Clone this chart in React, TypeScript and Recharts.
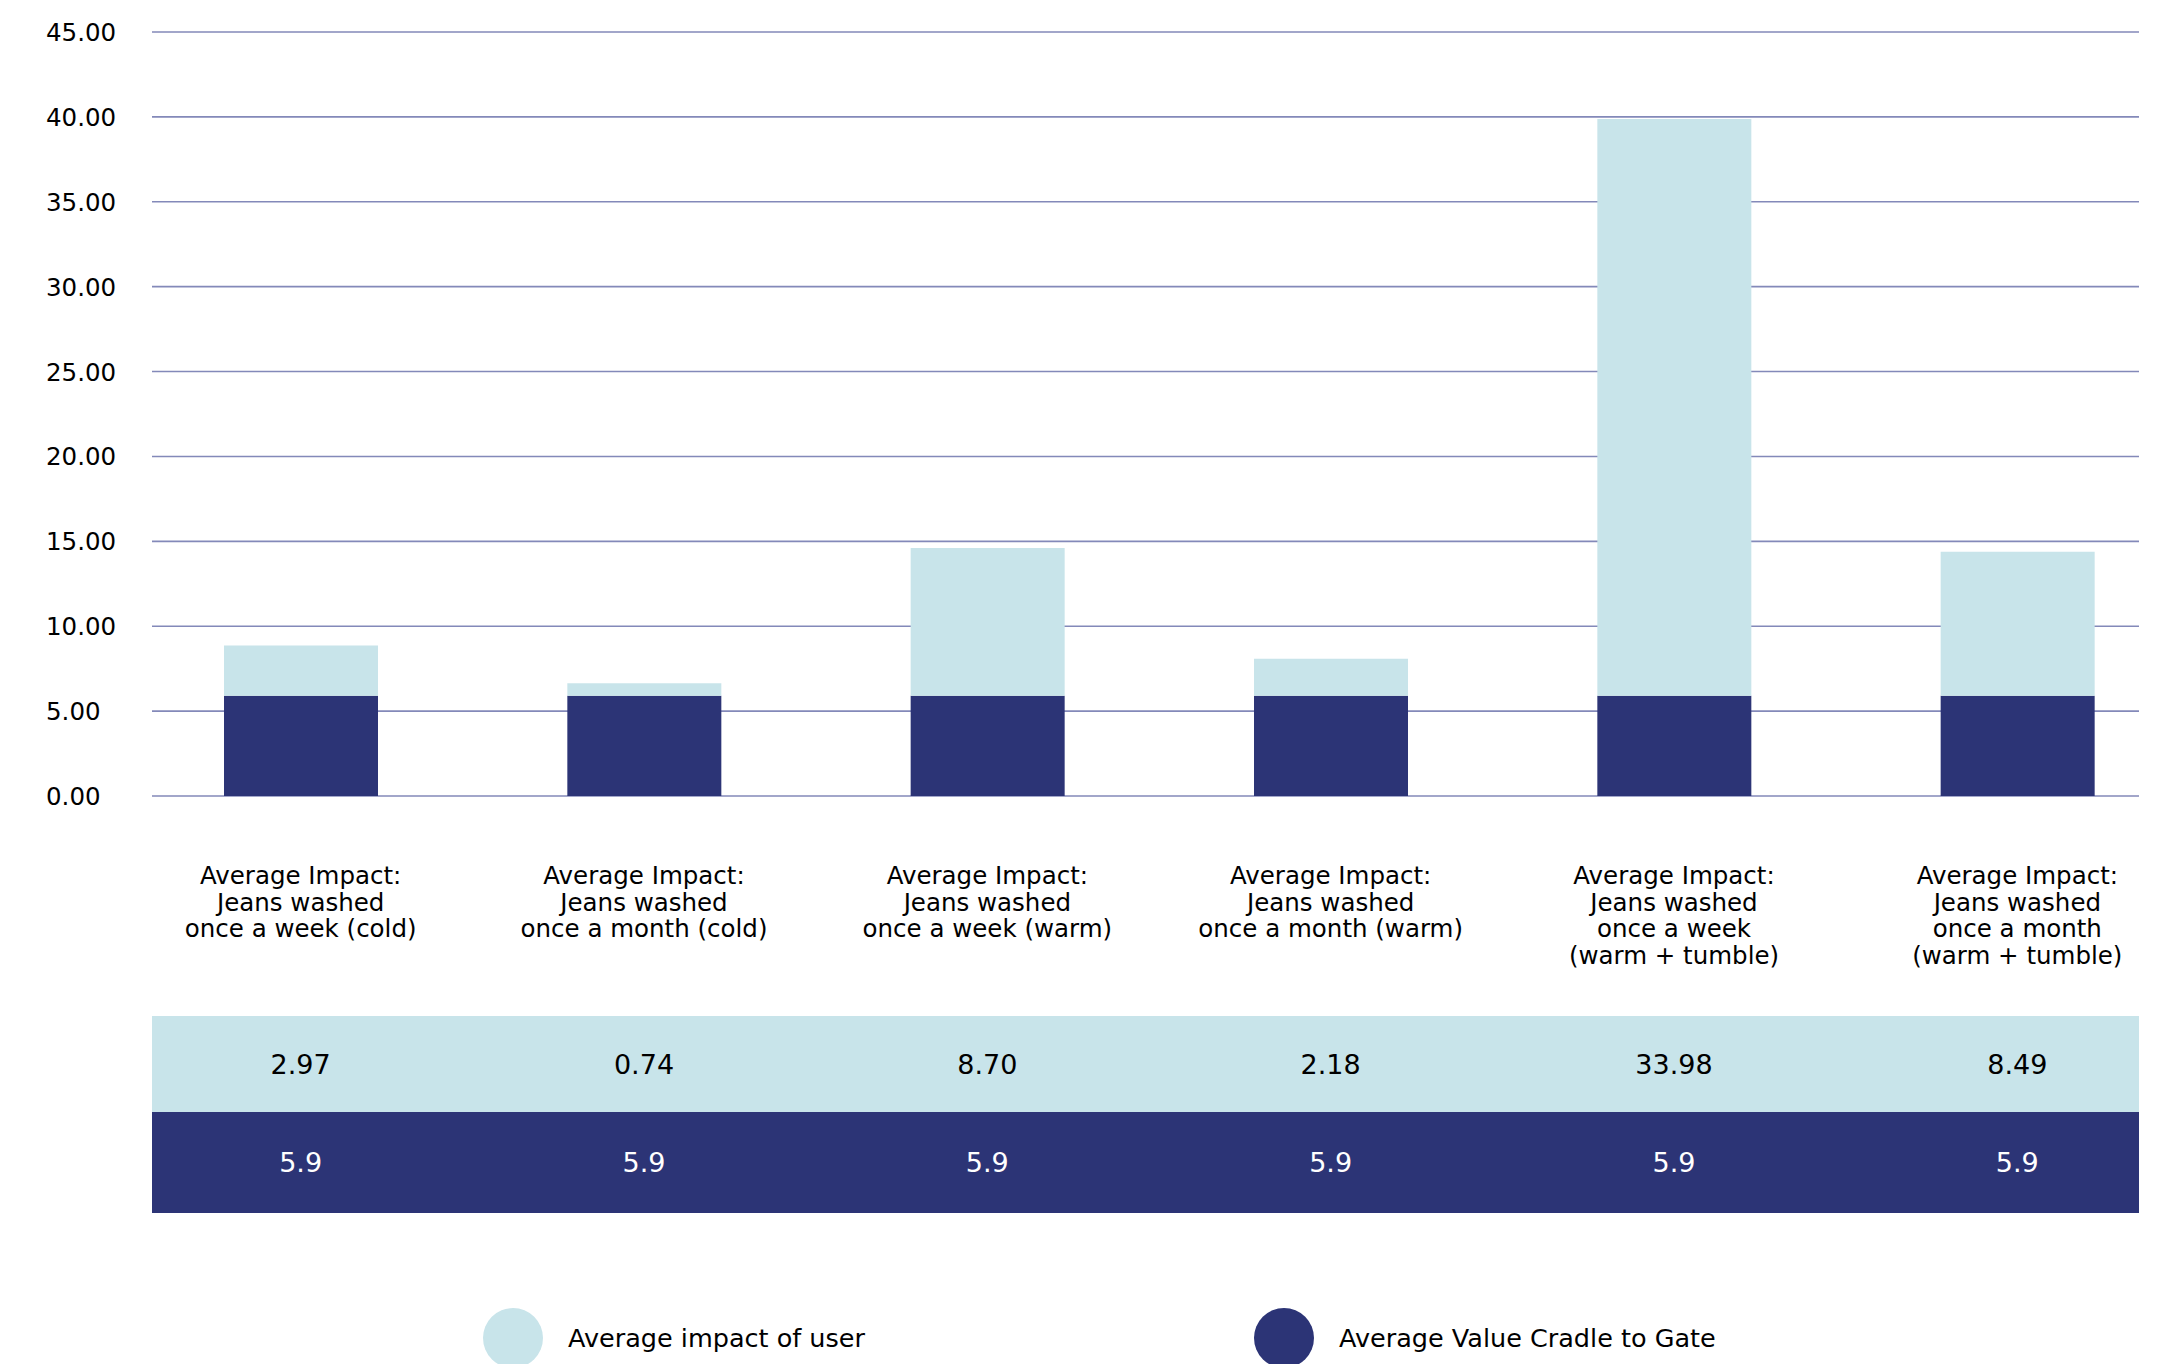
import React from 'react';
import { BarChart, Bar, XAxis, YAxis, CartesianGrid, Legend } from 'recharts';

// ---------- data ----------
const categoryLines: string[][] = [
  ['Average Impact:', 'Jeans washed', 'once a week (cold)'],
  ['Average Impact:', 'Jeans washed', 'once a month (cold)'],
  ['Average Impact:', 'Jeans washed', 'once a week (warm)'],
  ['Average Impact:', 'Jeans washed', 'once a month (warm)'],
  ['Average Impact:', 'Jeans washed', 'once a week', '(warm + tumble)'],
  ['Average Impact:', 'Jeans washed', 'once a month', '(warm + tumble)'],
];
const userImpact = [2.97, 0.74, 8.7, 2.18, 33.98, 8.49];
const cradleToGate = [5.9, 5.9, 5.9, 5.9, 5.9, 5.9];
const yTicks = [0, 5, 10, 15, 20, 25, 30, 35, 40, 45];
const seriesUserName = 'Average impact of user';
const seriesCradleName = 'Average Value Cradle to Gate';

const data = categoryLines.map((lines, i) => ({
  name: lines.join(' '),
  lines,
  user: userImpact[i],
  cradle: cradleToGate[i],
}));

// ---------- layout / style ----------
const FONT = '"DejaVu Sans", sans-serif';
const LIGHT = '#c8e4ea';
const DARK = '#2c3476';
const GRID = '#8389b9';
const CHART_W = 2141;
const CHART_H = 1356;
const MARGIN = { top: 24, right: 10, left: 0, bottom: 138 };
const YAXIS_W = 144;
const XAXIS_H = 430;
const PLOT_LEFT = MARGIN.left + YAXIS_W;
const PLOT_RIGHT = CHART_W - MARGIN.right;

const XTick = (props: any) => {
  const { x, y, index } = props;
  const d = data[index];
  if (!d) return null;
  return (
    <g>
      {index === 0 && (
        <g>
          <rect x={PLOT_LEFT} y={y + 220} width={PLOT_RIGHT - PLOT_LEFT} height={96} fill={LIGHT} />
          <rect x={PLOT_LEFT} y={y + 316} width={PLOT_RIGHT - PLOT_LEFT} height={101} fill={DARK} />
        </g>
      )}
      <text x={x} y={y + 88} textAnchor="middle" fontSize={24.5} fill="#000" fontFamily={FONT}>
        {d.lines.map((l: string, k: number) => (
          <tspan key={k} x={x} dy={k === 0 ? 0 : 26.7}>
            {l}
          </tspan>
        ))}
      </text>
      <text x={x} y={y + 278} textAnchor="middle" fontSize={27} fill="#000" fontFamily={FONT}>
        {d.user.toFixed(2)}
      </text>
      <text x={x} y={y + 376} textAnchor="middle" fontSize={27} fill="#fff" fontFamily={FONT}>
        {String(d.cradle)}
      </text>
    </g>
  );
};

const YTick = (props: any) => {
  const { x, y, payload } = props;
  return (
    <text x={x - (YAXIS_W - 38)} y={y} dy={9} textAnchor="start" fontSize={24.5} fill="#000" fontFamily={FONT}>
      {Number(payload.value).toFixed(2)}
    </text>
  );
};

const LegendItem = ({ color, label }: { color: string; label: string }) => (
  <div style={{ display: 'flex', alignItems: 'center', height: 60 }}>
    <div style={{ width: 60, height: 60, borderRadius: '50%', background: color, marginRight: 25 }} />
    <span style={{ fontSize: 25.5, color: '#000', fontFamily: FONT, whiteSpace: 'nowrap' }}>{label}</span>
  </div>
);

const LegendContent = () => (
  <div style={{ display: 'flex', alignItems: 'flex-start', paddingLeft: 475 }}>
    <LegendItem color={LIGHT} label={seriesUserName} />
    <div style={{ width: 389 }} />
    <LegendItem color={DARK} label={seriesCradleName} />
  </div>
);

export default function App() {
  return (
    <div style={{ width: CHART_W, height: CHART_H, fontFamily: FONT, background: '#fff', overflow: 'hidden' }}>
      <style>{'html, body { overflow: hidden; }'}</style>
      <BarChart width={CHART_W} height={CHART_H} data={data} margin={MARGIN} barSize={154}>
        <CartesianGrid vertical={false} stroke={GRID} strokeWidth={1.6} />
        <XAxis
          dataKey="name"
          height={XAXIS_H}
          axisLine={false}
          tickLine={false}
          tickSize={0}
          tickMargin={0}
          interval={0}
          padding={{ left: -23, right: -50 }}
          tick={XTick}
        />
        <YAxis
          width={YAXIS_W}
          domain={[0, 45]}
          ticks={yTicks}
          axisLine={false}
          tickLine={false}
          tickSize={0}
          tickMargin={0}
          interval={0}
          tick={YTick}
        />
        <Legend
          layout="horizontal"
          verticalAlign="middle"
          align="center"
          wrapperStyle={{ left: 0, top: 1300, width: CHART_W, height: 56, overflow: 'hidden' }}
          content={() => <LegendContent />}
        />
        <Bar dataKey="cradle" name={seriesCradleName} stackId="a" fill={DARK} isAnimationActive={false} />
        <Bar dataKey="user" name={seriesUserName} stackId="a" fill={LIGHT} isAnimationActive={false} />
      </BarChart>
    </div>
  );
}
